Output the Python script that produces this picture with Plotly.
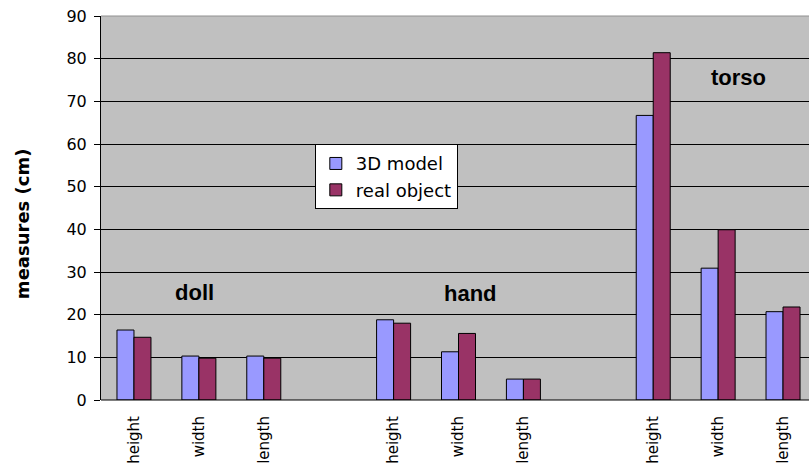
import plotly.graph_objects as go

slots = [0, 1, 2, 4, 5, 6, 8, 9, 10]
labels = ["height", "width", "length", "height", "width", "length", "height", "width", "length"]
model_3d = [16.4, 10.3, 10.3, 18.8, 11.3, 4.9, 66.7, 30.9, 20.7]
real_obj = [14.7, 9.8, 9.8, 18.0, 15.6, 4.9, 81.4, 39.9, 21.8]
groups = ["doll", "hand", "torso"]
group_x = [0.94, 5.18, 9.32]
group_y = [25.3, 25.0, 75.5]
y_title = "measures (cm)"

ARIAL = "Liberation Sans, Arial, sans-serif"
WIDE = "DejaVu Sans, Verdana, sans-serif"

fig = go.Figure()
fig.add_trace(go.Bar(x=slots, y=model_3d, name="3D model",
                     marker=dict(color="#9999FF", line=dict(color="black", width=1))))
fig.add_trace(go.Bar(x=slots, y=real_obj, name="real object",
                     marker=dict(color="#993366", line=dict(color="black", width=1))))

for g, gx, gy in zip(groups, group_x, group_y):
    fig.add_annotation(x=gx, y=gy, text="<b>" + g + "</b>", showarrow=False,
                       font=dict(family=ARIAL, size=22, color="black"))

fig.add_annotation(xref="paper", yref="paper", x=0, y=0.458, xanchor="center", yanchor="middle",
                   xshift=-79, textangle=-90, showarrow=False,
                   text="<b>" + y_title + "</b>",
                   font=dict(family=WIDE, size=18, color="black"))

fig.update_layout(
    width=809, height=466,
    margin=dict(l=101, r=0, t=16, b=66),
    paper_bgcolor="white",
    plot_bgcolor="#C0C0C0",
    barmode="group",
    bargap=0.476,
    bargroupgap=0,
    font=dict(family=WIDE, size=16, color="black"),
    showlegend=True,
    legend=dict(x=0.302, y=0.666, xanchor="left", yanchor="top",
                bgcolor="white", bordercolor="black", borderwidth=1,
                font=dict(family=WIDE, size=18, color="black"),
                tracegroupgap=0),
    xaxis=dict(range=[-0.508, 10.40], tickmode="array", tickvals=slots, ticktext=labels,
               tickangle=-90, showgrid=False, zeroline=False, showline=False,
               tickfont=dict(family=WIDE, size=15, color="black"), ticks="",
               ticklabelstandoff=12),
    yaxis=dict(range=[0, 90], dtick=10, showgrid=True, gridcolor="black", gridwidth=1,
               zeroline=False, showline=True, linecolor="black", linewidth=1,
               ticks="outside", ticklen=6, tickcolor="black",
               tickfont=dict(family=WIDE, size=16, color="black"),
               ticklabelstandoff=4),
)
fig.add_shape(type="line", xref="paper", yref="paper", x0=0, x1=1, y0=0, y1=0,
              line=dict(color="black", width=1))
fig.add_shape(type="line", xref="paper", yref="paper", x0=0, x1=1, y0=1, y1=1,
              line=dict(color="#909090", width=1))

fig.write_html("out.html")
